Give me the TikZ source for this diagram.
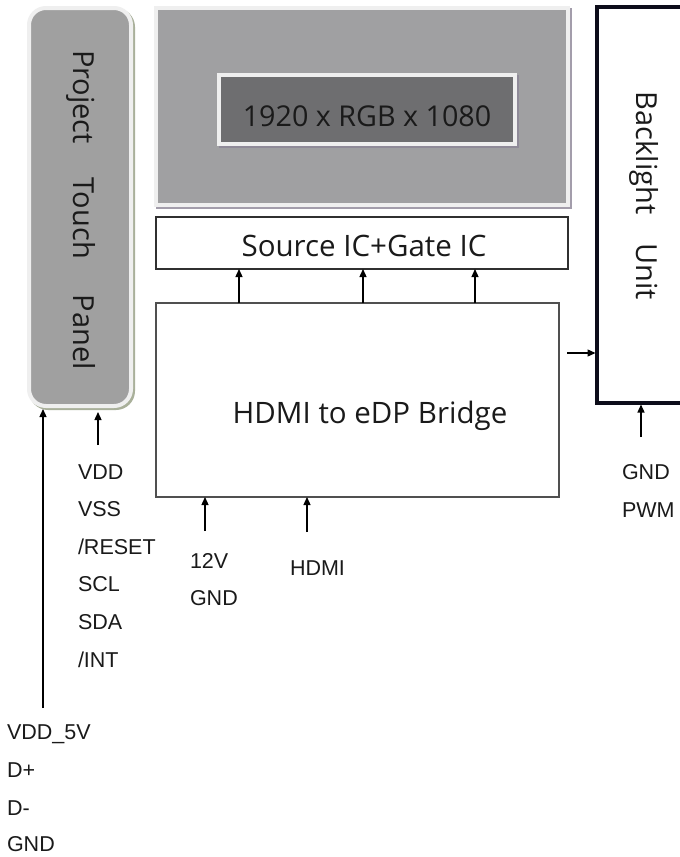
\documentclass[tikz,border=0pt]{standalone}
\usepackage{fontspec}
\setmainfont{Open Sans}
\newfontfamily\labfont{Liberation Sans}
\usetikzlibrary{arrows.meta}
\definecolor{panelgray}{HTML}{A0A0A0}
\definecolor{dispgray}{HTML}{A0A0A2}
\definecolor{resgray}{HTML}{6E6E70}
\definecolor{rimgray}{HTML}{EFEFEF}
\definecolor{tpshadow}{HTML}{A9B09A}
\definecolor{dispshadow}{HTML}{A39DAB}
\definecolor{resshadow}{HTML}{8F8A98}
\definecolor{txtcol}{HTML}{1A1A1A}
\definecolor{labcol}{HTML}{1A1A1A}
\definecolor{boxline}{HTML}{303030}
\definecolor{bridgeline}{HTML}{505050}
\definecolor{blline}{HTML}{0D0D1A}
\begin{document}
\begin{tikzpicture}[x=1pt,y=-1pt,
  every node/.style={inner sep=0pt, outer sep=0pt},
  arr/.style={line width=1.3pt, -{Triangle[length=8pt,width=7pt]}},
  lab/.style={anchor=base west, font=\labfont\fontsize{21.5}{26}\selectfont, text=labcol},
  big/.style={font=\fontsize{29.5}{35}\selectfont, text=txtcol},
  tpshape/.style={minimum width=102pt, minimum height=398pt, rounded corners=17pt, line width=4pt},
  dispshape/.style={minimum width=412pt, minimum height=197pt, line width=4pt},
  resshape/.style={minimum width=296pt, minimum height=69pt, line width=4pt},
]
\useasboundingbox (0,0) rectangle (680,857);
\clip (0,0) rectangle (680,857);
\fill[white] (0,0) rectangle (680,857);

% touch panel
\node[tpshape, fill=tpshadow, draw=tpshadow] (tpsh) at (82,209) {};
\node[tpshape, fill=panelgray, draw=rimgray] (tp) at (80,207) {};
\node[big, font=\fontsize{29}{35}\selectfont, rotate=-90] (tpt) at (81,210) {Project\hspace{34pt}Touch\hspace{36pt}Panel};

% display
\node[dispshape, fill=dispshadow, draw=dispshadow] (dispsh) at (364,108.5) {};
\node[dispshape, fill=dispgray, draw=rimgray] (disp) at (362,106.5) {};
\node[resshape, fill=resshadow, draw=resshadow] (ressh) at (369,111.5) {};
\node[resshape, fill=resgray, draw=rimgray] (res) at (367,109.5) {};
\node[big, font=\fontsize{28.7}{34}\selectfont, anchor=base] (rest) at (367,126) {1920 x RGB x 1080};

% source / gate IC
\node[draw=boxline, line width=1.2pt, minimum width=412pt, minimum height=52pt] (src) at (362,243) {};
\node[big, anchor=base] (srct) at (364,256) {Source IC+Gate IC};

% bridge
\node[draw=bridgeline, line width=1.5pt, minimum width=403pt, minimum height=194pt] (br) at (357.5,400) {};
\node[big, anchor=base] (brt) at (370,423) {HDMI to eDP Bridge};

% backlight
\node[draw=blline, line width=3.5pt, minimum width=130pt, minimum height=396pt] (bl) at (662,205) {};
\node[big, font=\fontsize{29}{35}\selectfont, rotate=-90] (blt) at (644,196) {Backlight\hspace{29pt}Unit};

% arrows
\coordinate (c1) at (239,0);
\coordinate (c2) at (363,0);
\coordinate (c3) at (475,0);
\draw[arr] (c1 |- br.north) -- (c1 |- src.south);
\draw[arr] (c2 |- br.north) -- (c2 |- src.south);
\draw[arr] (c3 |- br.north) -- (c3 |- src.south);
\coordinate (c4) at (567,353);
\draw[arr, shorten >=1.5pt] (c4) -- (c4 -| bl.west);
\coordinate (c5) at (641,437);
\draw[arr, shorten >=1.5pt] (c5) -- (c5 |- bl.south);
\coordinate (c6) at (205,531);
\draw[arr] (c6) -- (c6 |- br.south);
\coordinate (c7) at (307,532);
\draw[arr] (c7) -- (c7 |- br.south);
\coordinate (c8) at (43,708);
\draw[arr, shorten >=3pt] (c8) -- (c8 |- tp.south);
\coordinate (c9) at (98,445);
\draw[arr, shorten >=6pt] (c9) -- (c9 |- tp.south);

% labels
\node[lab] (l1) at (78,479) {VDD};
\node[lab] (l2) at (78,516.6) {VSS};
\node[lab] (l3) at (78,554.2) {/RESET};
\node[lab] (l4) at (78,591.8) {SCL};
\node[lab] (l5) at (78,629.4) {SDA};
\node[lab] (l6) at (78,667) {/INT};
\node[lab] (p1) at (190,568) {12V};
\node[lab] (p2) at (190,605) {GND};
\node[lab] (h1) at (290,575) {HDMI};
\node[lab] (b1) at (622,479) {GND};
\node[lab] (b2) at (622,517) {PWM};
\node[lab] (u1) at (7,739) {VDD\_5V};
\node[lab] (u2) at (7,777) {D+};
\node[lab] (u3) at (7,815) {D-};
\node[lab] (u4) at (7,851) {GND};
\end{tikzpicture}
\end{document}
